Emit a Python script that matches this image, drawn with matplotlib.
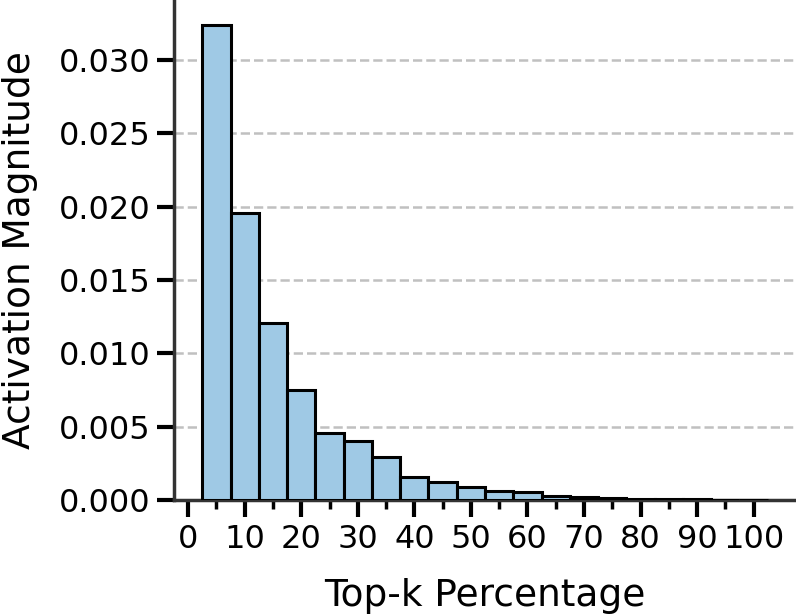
import matplotlib
matplotlib.use("Agg")
import matplotlib.pyplot as plt
from matplotlib.ticker import MultipleLocator, FixedLocator

# top-k bins (percent) and mean activation magnitude
topk = [5, 10, 15, 20, 25, 30, 35, 40, 45, 50,
        55, 60, 65, 70, 75, 80, 85, 90, 95, 100]
magnitude = [0.0324, 0.0196, 0.0121, 0.0075, 0.0046, 0.0040, 0.0029, 0.0016, 0.0012, 0.0009,
             0.0006, 0.00055, 0.0003, 0.00022, 0.00015, 0.0001, 0.00006, 0.00004, 0.00002, 0.00001]
minor_x = [5, 15, 25, 35, 45, 55, 65, 75, 85, 95]

fig = plt.figure(figsize=(7.96, 6.14), dpi=100)
ax = fig.add_axes([174/796, 114/614, 1 - 174/796, 1 - 114/614])

ax.bar(topk, magnitude, width=5, color="#9fc9e5", edgecolor="black", linewidth=2.2, zorder=3)
ax.set_xlim(-2.5, 107.5)
ax.set_ylim(0, 0.0341)

ax.grid(axis="y", linestyle="--", color="#c0c0c0", linewidth=1.8, zorder=0)
ax.set_axisbelow(True)
for s in ["top", "right"]:
    ax.spines[s].set_visible(False)
for s in ["left", "bottom"]:
    ax.spines[s].set_color("#333333")
    ax.spines[s].set_linewidth(2.5)

ax.xaxis.set_major_locator(MultipleLocator(10))
ax.xaxis.set_minor_locator(FixedLocator(minor_x))
ax.yaxis.set_major_locator(MultipleLocator(0.005))
ax.tick_params(which="major", length=12, width=3, labelsize=23, pad=5)
ax.tick_params(which="minor", axis="x", length=6.5, width=2.5)
ax.set_yticklabels([f"{v:.3f}" for v in ax.get_yticks()])

ax.set_xlabel("Top-k Percentage", fontsize=27, labelpad=17)
ax.set_ylabel("Activation Magnitude", fontsize=27, labelpad=15)

fig.savefig("out.png", dpi=100)
